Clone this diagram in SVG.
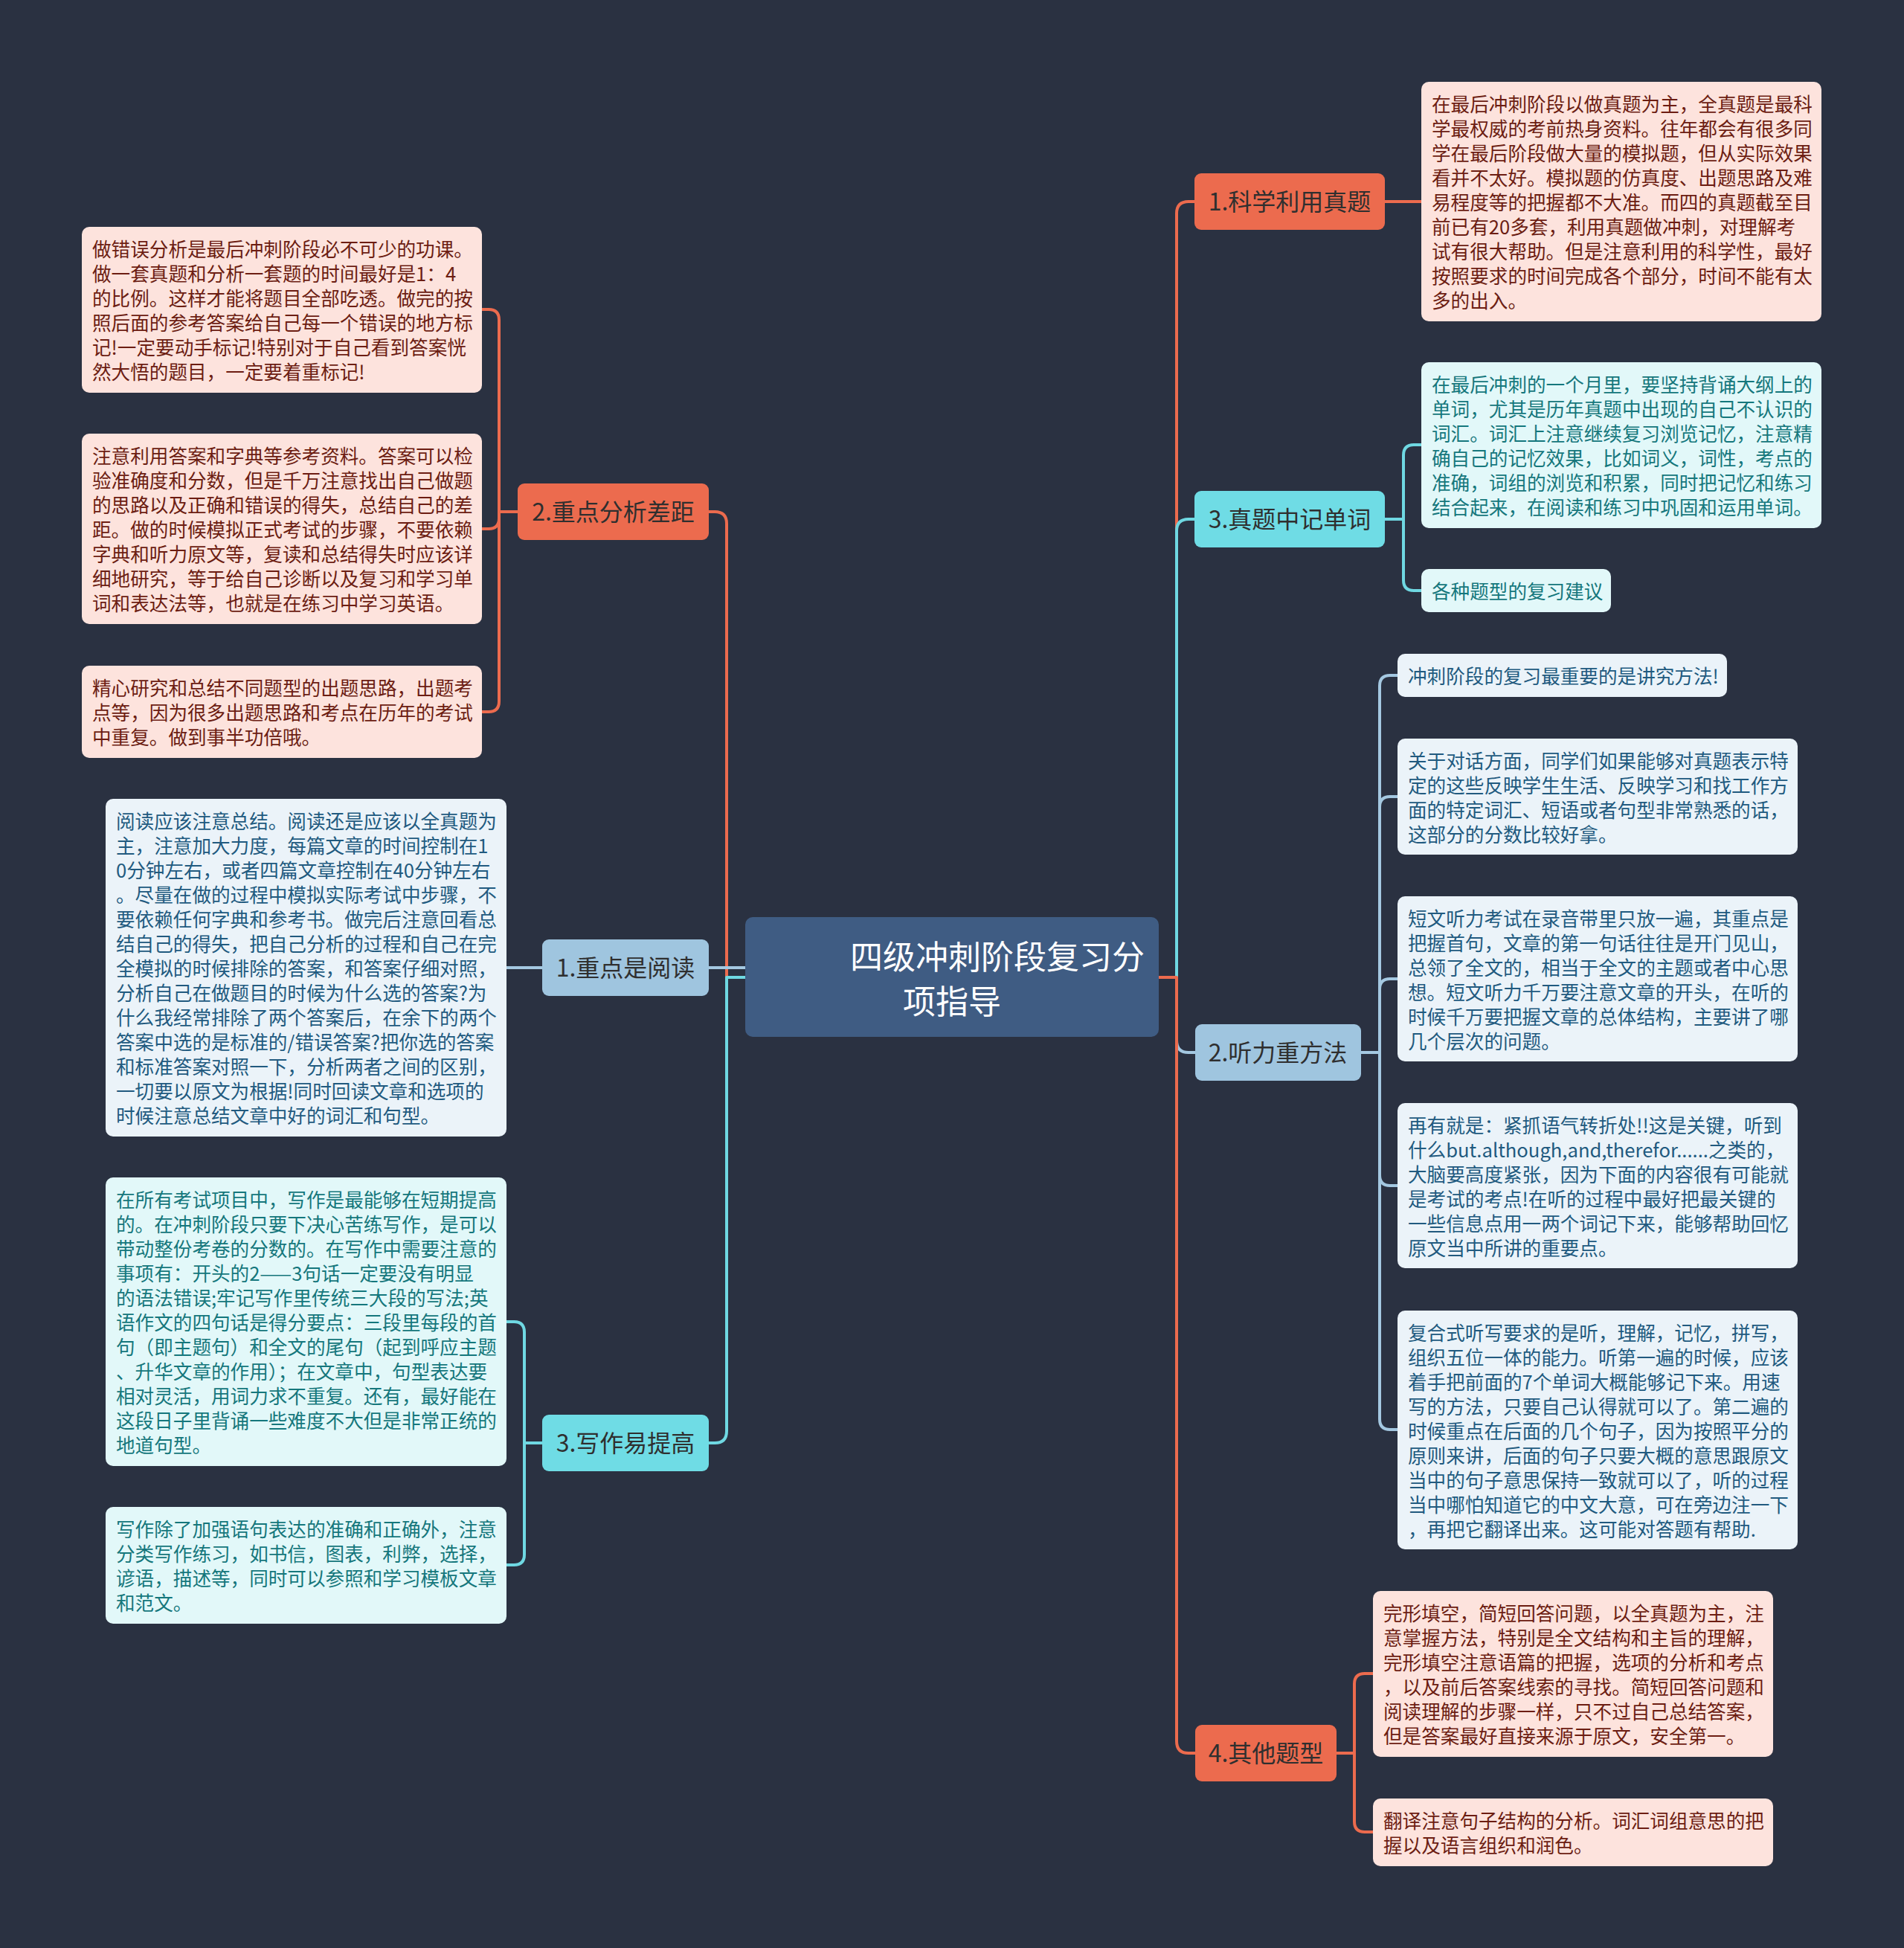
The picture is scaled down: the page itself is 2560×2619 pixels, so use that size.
<svg xmlns="http://www.w3.org/2000/svg" width="2560" height="2619" viewBox="0 0 2560 2619">
<style>
.bg{fill:#2a3141}
.n-or{fill:#ec6b4e}
.n-cy{fill:#6fdce5}
.n-lb{fill:#9fc5df}
.n-c{fill:#3f5c83}
.l-or{fill:#fde3dd}
.l-cy{fill:#e2f8f9}
.l-lb{fill:#ebf3f9}
text{font-family:"Noto Sans CJK SC","Noto Sans",sans-serif}
.tn{font-size:32px;fill:#2f2f2f;text-anchor:middle}
.tc{font-size:44px;fill:#ffffff}
.tl{font-size:25.6px}
.tx-or{fill:#6c1d12}
.tx-cy{fill:#15777c}
.tx-lb{fill:#215a7f}
.c{fill:none;stroke-width:4;stroke-linejoin:round}
.c-or{stroke:#ec6b4e}
.c-cy{stroke:#6fd8e2}
.c-lb{stroke:#a4c8e1}
</style>
<rect class="bg" x="0" y="0" width="2560" height="2619"/>

<g id="connectors">
  <!-- right trunk -->
  <path class="c c-or" d="M1558,1314 H1582 V287 Q1582,271 1598,271 H1606"/>
  <path class="c c-lb" d="M1558,1314 H1582 V1399 Q1582,1415 1598,1415 H1607"/>
  <path class="c c-cy" d="M1558,1314 H1582 V714 Q1582,698 1598,698 H1606"/>
  <path class="c c-or" d="M1558,1314 H1582 V2341 Q1582,2357 1598,2357 H1607"/>
  <!-- left trunk -->
  <path class="c c-or" d="M1002,1314 H977 V704 Q977,688 961,688 H953"/>
  <path class="c c-lb" d="M1002,1301 H953"/>
  <path class="c c-cy" d="M1002,1314 H977 V1924 Q977,1940 961,1940 H953"/>
  <!-- 科学利用真题 -->
  <path class="c c-or" d="M1862,271 H1911"/>
  <!-- 真题中记单词 -->
  <path class="c c-cy" d="M1862,698 H1887 V612 Q1887,598 1901,598 H1911"/>
  <path class="c c-cy" d="M1862,698 H1887 V780 Q1887,794 1901,794 H1911"/>
  <!-- 听力重方法 -->
  <path class="c c-lb" d="M1830,1415 H1855 V922 Q1855,908 1869,908 H1879"/>
  <path class="c c-lb" d="M1830,1415 H1855 V1085 Q1855,1071 1869,1071 H1879"/>
  <path class="c c-lb" d="M1830,1415 H1855 V1330 Q1855,1316 1869,1316 H1879"/>
  <path class="c c-lb" d="M1830,1415 H1855 V1580 Q1855,1594 1869,1594 H1879"/>
  <path class="c c-lb" d="M1830,1415 H1855 V1908 Q1855,1922 1869,1922 H1879"/>
  <!-- 其他题型 -->
  <path class="c c-or" d="M1797,2357 H1821 V2264 Q1821,2250 1835,2250 H1846"/>
  <path class="c c-or" d="M1797,2357 H1821 V2449 Q1821,2463 1835,2463 H1846"/>
  <!-- 重点分析差距 -->
  <path class="c c-or" d="M696,688 H671 V430 Q671,416 657,416 H647"/>
  <path class="c c-or" d="M696,688 H671 V697 Q671,711 657,711 H647"/>
  <path class="c c-or" d="M696,688 H671 V943 Q671,957 657,957 H647"/>
  <!-- 重点是阅读 -->
  <path class="c c-lb" d="M729,1301 H681"/>
  <!-- 写作易提高 -->
  <path class="c c-cy" d="M729,1940 H705 V1791 Q705,1777 691,1777 H681"/>
  <path class="c c-cy" d="M729,1940 H705 V2090 Q705,2104 691,2104 H681"/>
</g>

<g id="center">
  <rect class="n-c" x="1002" y="1233" width="556" height="161" rx="10"/>
  <text class="tc" x="1143" y="1303">四级冲刺阶段复习分</text>
  <text class="tc" x="1214" y="1363">项指导</text>
</g>

<!-- right branch nodes -->
<g id="n-kexue">
  <rect class="n-or" x="1606" y="233" width="256" height="76" rx="9"/>
  <text class="tn" x="1734" y="283">1.科学利用真题</text>
</g>
<g id="n-danci">
  <rect class="n-cy" x="1606" y="660" width="256" height="76" rx="9"/>
  <text class="tn" x="1734" y="710">3.真题中记单词</text>
</g>
<g id="n-tingli">
  <rect class="n-lb" x="1607" y="1377" width="223" height="76" rx="9"/>
  <text class="tn" x="1718" y="1427">2.听力重方法</text>
</g>
<g id="n-qita">
  <rect class="n-or" x="1607" y="2319" width="190" height="76" rx="9"/>
  <text class="tn" x="1702" y="2369">4.其他题型</text>
</g>

<!-- left branch nodes -->
<g id="n-fenxi">
  <rect class="n-or" x="696" y="650" width="257" height="76" rx="9"/>
  <text class="tn" x="824.5" y="700">2.重点分析差距</text>
</g>
<g id="n-yuedu">
  <rect class="n-lb" x="729" y="1263" width="224" height="76" rx="9"/>
  <text class="tn" x="841" y="1313">1.重点是阅读</text>
</g>
<g id="n-xiezuo">
  <rect class="n-cy" x="729" y="1902" width="224" height="76" rx="9"/>
  <text class="tn" x="841" y="1952">3.写作易提高</text>
</g>

<!-- right leaves -->
<g id="leaf-kexue">
  <rect class="l-or" x="1911" y="110" width="538" height="322" rx="10"/>
  <text class="tl tx-or" x="1925" y="150"><tspan x="1925">在最后冲刺阶段以做真题为主，全真题是最科</tspan><tspan x="1925" dy="33">学最权威的考前热身资料。往年都会有很多同</tspan><tspan x="1925" dy="33">学在最后阶段做大量的模拟题，但从实际效果</tspan><tspan x="1925" dy="33">看并不太好。模拟题的仿真度、出题思路及难</tspan><tspan x="1925" dy="33">易程度等的把握都不大准。而四的真题截至目</tspan><tspan x="1925" dy="33">前已有20多套，利用真题做冲刺，对理解考</tspan><tspan x="1925" dy="33">试有很大帮助。但是注意利用的科学性，最好</tspan><tspan x="1925" dy="33">按照要求的时间完成各个部分，时间不能有太</tspan><tspan x="1925" dy="33">多的出入。</tspan></text>
</g>
<g id="leaf-danci-1">
  <rect class="l-cy" x="1911" y="487" width="538" height="223" rx="10"/>
  <text class="tl tx-cy" x="1925" y="527"><tspan x="1925">在最后冲刺的一个月里，要坚持背诵大纲上的</tspan><tspan x="1925" dy="33">单词，尤其是历年真题中出现的自己不认识的</tspan><tspan x="1925" dy="33">词汇。词汇上注意继续复习浏览记忆，注意精</tspan><tspan x="1925" dy="33">确自己的记忆效果，比如词义，词性，考点的</tspan><tspan x="1925" dy="33">准确，词组的浏览和积累，同时把记忆和练习</tspan><tspan x="1925" dy="33">结合起来，在阅读和练习中巩固和运用单词。</tspan></text>
</g>
<g id="leaf-danci-2">
  <rect class="l-cy" x="1911" y="765" width="255" height="58" rx="10"/>
  <text class="tl tx-cy" x="1925" y="805">各种题型的复习建议</text>
</g>
<g id="leaf-tingli-1">
  <rect class="l-lb" x="1879" y="879" width="443" height="58" rx="10"/>
  <text class="tl tx-lb" x="1893" y="919">冲刺阶段的复习最重要的是讲究方法!</text>
</g>
<g id="leaf-tingli-2">
  <rect class="l-lb" x="1879" y="993" width="538" height="156" rx="10"/>
  <text class="tl tx-lb" x="1893" y="1033"><tspan x="1893">关于对话方面，同学们如果能够对真题表示特</tspan><tspan x="1893" dy="33">定的这些反映学生生活、反映学习和找工作方</tspan><tspan x="1893" dy="33">面的特定词汇、短语或者句型非常熟悉的话，</tspan><tspan x="1893" dy="33">这部分的分数比较好拿。</tspan></text>
</g>
<g id="leaf-tingli-3">
  <rect class="l-lb" x="1879" y="1205" width="538" height="222" rx="10"/>
  <text class="tl tx-lb" x="1893" y="1245"><tspan x="1893">短文听力考试在录音带里只放一遍，其重点是</tspan><tspan x="1893" dy="33">把握首句，文章的第一句话往往是开门见山，</tspan><tspan x="1893" dy="33">总领了全文的，相当于全文的主题或者中心思</tspan><tspan x="1893" dy="33">想。短文听力千万要注意文章的开头，在听的</tspan><tspan x="1893" dy="33">时候千万要把握文章的总体结构，主要讲了哪</tspan><tspan x="1893" dy="33">几个层次的问题。</tspan></text>
</g>
<g id="leaf-tingli-4">
  <rect class="l-lb" x="1879" y="1483" width="538" height="222" rx="10"/>
  <text class="tl tx-lb" x="1893" y="1523"><tspan x="1893">再有就是：紧抓语气转折处!!这是关键，听到</tspan><tspan x="1893" dy="33">什么but.although,and,therefor......之类的，</tspan><tspan x="1893" dy="33">大脑要高度紧张，因为下面的内容很有可能就</tspan><tspan x="1893" dy="33">是考试的考点!在听的过程中最好把最关键的</tspan><tspan x="1893" dy="33">一些信息点用一两个词记下来，能够帮助回忆</tspan><tspan x="1893" dy="33">原文当中所讲的重要点。</tspan></text>
</g>
<g id="leaf-tingli-5">
  <rect class="l-lb" x="1879" y="1762" width="538" height="321" rx="10"/>
  <text class="tl tx-lb" x="1893" y="1802"><tspan x="1893">复合式听写要求的是听，理解，记忆，拼写，</tspan><tspan x="1893" dy="33">组织五位一体的能力。听第一遍的时候，应该</tspan><tspan x="1893" dy="33">着手把前面的7个单词大概能够记下来。用速</tspan><tspan x="1893" dy="33">写的方法，只要自己认得就可以了。第二遍的</tspan><tspan x="1893" dy="33">时候重点在后面的几个句子，因为按照平分的</tspan><tspan x="1893" dy="33">原则来讲，后面的句子只要大概的意思跟原文</tspan><tspan x="1893" dy="33">当中的句子意思保持一致就可以了，听的过程</tspan><tspan x="1893" dy="33">当中哪怕知道它的中文大意，可在旁边注一下</tspan><tspan x="1893" dy="33">，再把它翻译出来。这可能对答题有帮助.</tspan></text>
</g>
<g id="leaf-qita-1">
  <rect class="l-or" x="1846" y="2139" width="538" height="223" rx="10"/>
  <text class="tl tx-or" x="1860" y="2179"><tspan x="1860">完形填空，简短回答问题，以全真题为主，注</tspan><tspan x="1860" dy="33">意掌握方法，特别是全文结构和主旨的理解，</tspan><tspan x="1860" dy="33">完形填空注意语篇的把握，选项的分析和考点</tspan><tspan x="1860" dy="33">，以及前后答案线索的寻找。简短回答问题和</tspan><tspan x="1860" dy="33">阅读理解的步骤一样，只不过自己总结答案，</tspan><tspan x="1860" dy="33">但是答案最好直接来源于原文，安全第一。</tspan></text>
</g>
<g id="leaf-qita-2">
  <rect class="l-or" x="1846" y="2418" width="538" height="91" rx="10"/>
  <text class="tl tx-or" x="1860" y="2458"><tspan x="1860">翻译注意句子结构的分析。词汇词组意思的把</tspan><tspan x="1860" dy="33">握以及语言组织和润色。</tspan></text>
</g>

<!-- left leaves -->
<g id="leaf-fenxi-1">
  <rect class="l-or" x="110" y="305" width="538" height="223" rx="10"/>
  <text class="tl tx-or" x="124" y="345"><tspan x="124">做错误分析是最后冲刺阶段必不可少的功课。</tspan><tspan x="124" dy="33">做一套真题和分析一套题的时间最好是1：4</tspan><tspan x="124" dy="33">的比例。这样才能将题目全部吃透。做完的按</tspan><tspan x="124" dy="33">照后面的参考答案给自己每一个错误的地方标</tspan><tspan x="124" dy="33">记!一定要动手标记!特别对于自己看到答案恍</tspan><tspan x="124" dy="33">然大悟的题目，一定要着重标记!</tspan></text>
</g>
<g id="leaf-fenxi-2">
  <rect class="l-or" x="110" y="583" width="538" height="256" rx="10"/>
  <text class="tl tx-or" x="124" y="623"><tspan x="124">注意利用答案和字典等参考资料。答案可以检</tspan><tspan x="124" dy="33">验准确度和分数，但是千万注意找出自己做题</tspan><tspan x="124" dy="33">的思路以及正确和错误的得失，总结自己的差</tspan><tspan x="124" dy="33">距。做的时候模拟正式考试的步骤，不要依赖</tspan><tspan x="124" dy="33">字典和听力原文等，复读和总结得失时应该详</tspan><tspan x="124" dy="33">细地研究，等于给自己诊断以及复习和学习单</tspan><tspan x="124" dy="33">词和表达法等，也就是在练习中学习英语。</tspan></text>
</g>
<g id="leaf-fenxi-3">
  <rect class="l-or" x="110" y="895" width="538" height="124" rx="10"/>
  <text class="tl tx-or" x="124" y="935"><tspan x="124">精心研究和总结不同题型的出题思路，出题考</tspan><tspan x="124" dy="33">点等，因为很多出题思路和考点在历年的考试</tspan><tspan x="124" dy="33">中重复。做到事半功倍哦。</tspan></text>
</g>
<g id="leaf-yuedu">
  <rect class="l-lb" x="142" y="1074" width="539" height="454" rx="10"/>
  <text class="tl tx-lb" x="156" y="1114"><tspan x="156">阅读应该注意总结。阅读还是应该以全真题为</tspan><tspan x="156" dy="33">主，注意加大力度，每篇文章的时间控制在1</tspan><tspan x="156" dy="33">0分钟左右，或者四篇文章控制在40分钟左右</tspan><tspan x="156" dy="33">。尽量在做的过程中模拟实际考试中步骤，不</tspan><tspan x="156" dy="33">要依赖任何字典和参考书。做完后注意回看总</tspan><tspan x="156" dy="33">结自己的得失，把自己分析的过程和自己在完</tspan><tspan x="156" dy="33">全模拟的时候排除的答案，和答案仔细对照，</tspan><tspan x="156" dy="33">分析自己在做题目的时候为什么选的答案?为</tspan><tspan x="156" dy="33">什么我经常排除了两个答案后，在余下的两个</tspan><tspan x="156" dy="33">答案中选的是标准的/错误答案?把你选的答案</tspan><tspan x="156" dy="33">和标准答案对照一下，分析两者之间的区别，</tspan><tspan x="156" dy="33">一切要以原文为根据!同时回读文章和选项的</tspan><tspan x="156" dy="33">时候注意总结文章中好的词汇和句型。</tspan></text>
</g>
<g id="leaf-xiezuo-1">
  <rect class="l-cy" x="142" y="1583" width="539" height="388" rx="10"/>
  <text class="tl tx-cy" x="156" y="1623"><tspan x="156">在所有考试项目中，写作是最能够在短期提高</tspan><tspan x="156" dy="33">的。在冲刺阶段只要下决心苦练写作，是可以</tspan><tspan x="156" dy="33">带动整份考卷的分数的。在写作中需要注意的</tspan><tspan x="156" dy="33">事项有：开头的2——3句话一定要没有明显</tspan><tspan x="156" dy="33">的语法错误;牢记写作里传统三大段的写法;英</tspan><tspan x="156" dy="33">语作文的四句话是得分要点：三段里每段的首</tspan><tspan x="156" dy="33">句（即主题句）和全文的尾句（起到呼应主题</tspan><tspan x="156" dy="33">、升华文章的作用）；在文章中，句型表达要</tspan><tspan x="156" dy="33">相对灵活，用词力求不重复。还有，最好能在</tspan><tspan x="156" dy="33">这段日子里背诵一些难度不大但是非常正统的</tspan><tspan x="156" dy="33">地道句型。</tspan></text>
</g>
<g id="leaf-xiezuo-2">
  <rect class="l-cy" x="142" y="2026" width="539" height="157" rx="10"/>
  <text class="tl tx-cy" x="156" y="2066"><tspan x="156">写作除了加强语句表达的准确和正确外，注意</tspan><tspan x="156" dy="33">分类写作练习，如书信，图表，利弊，选择，</tspan><tspan x="156" dy="33">谚语，描述等，同时可以参照和学习模板文章</tspan><tspan x="156" dy="33">和范文。</tspan></text>
</g>
</svg>
